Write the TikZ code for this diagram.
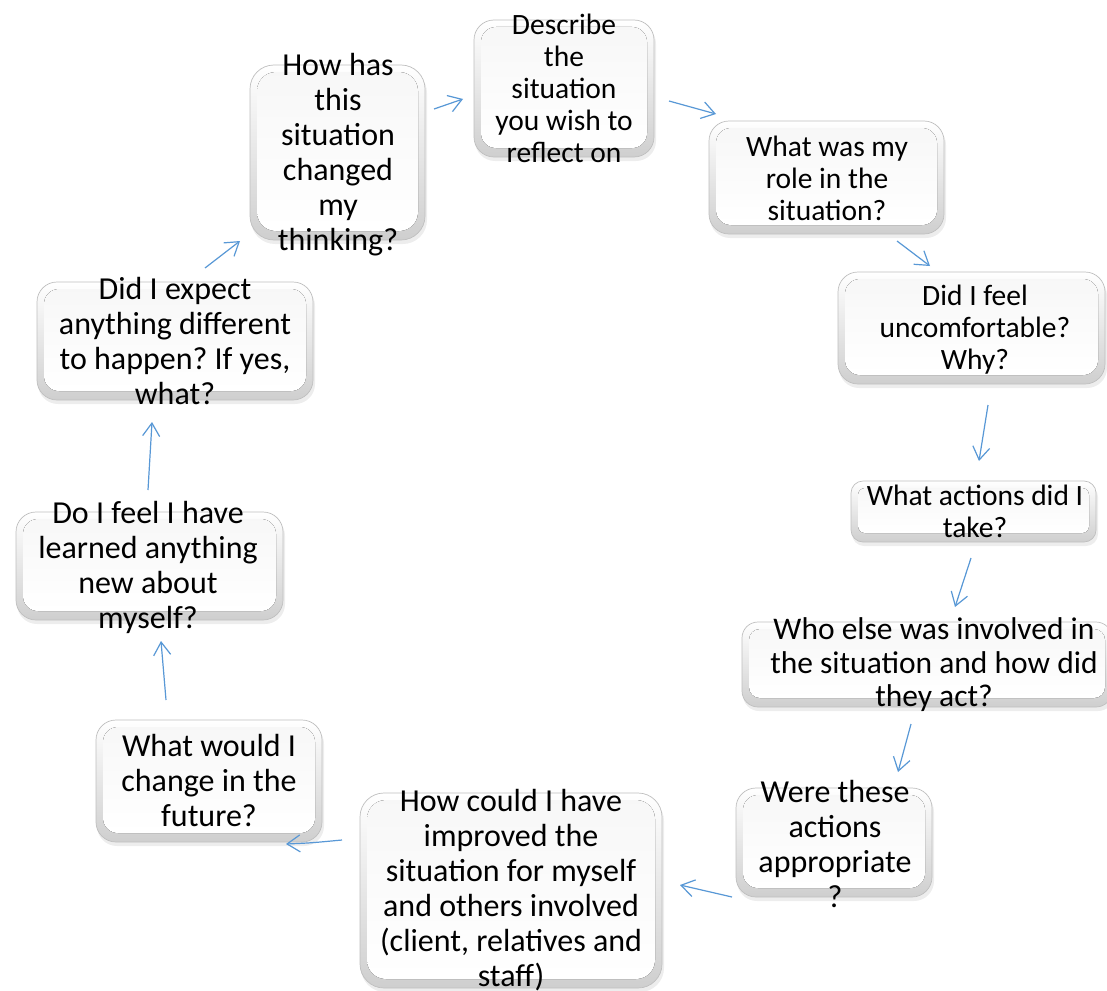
\documentclass[tikz,border=0pt]{standalone}
\usepackage{fontspec}
\setmainfont{Carlito}
\frenchspacing
\usetikzlibrary{arrows.meta}
\definecolor{arrowblue}{RGB}{88,152,214}
\tikzset{
  boxshadow/.style={fill=black, opacity=0.07},
  boxouter/.style={top color=white, bottom color=gray!38, draw=gray!50, line width=0.7pt},
  boxinner/.style={top color=gray!6, bottom color=white},
  qtext/.style={align=center, inner sep=0pt, text=black},
  big/.style={font=\fontsize{32}{35}\selectfont},
  mid/.style={font=\fontsize{31.5}{33.5}\selectfont},
  small/.style={font=\fontsize{29.5}{32}\selectfont},
  flow/.style={draw=arrowblue, line width=1.2pt, -{Straight Barb[length=13pt,width=17pt,line width=1.2pt]}},
}
% #1 name, #2 x1, #3 y1, #4 x2, #5 y2, #6 radius, #7 style, #8 text, #9 text centre
\newcommand\qbox[9]{%
  \fill[boxshadow, rounded corners=#6pt] (#2+1,#3+4) rectangle (#4+2,#5+4);
  \draw[boxouter, rounded corners=#6pt] (#2,#3) rectangle (#4,#5);
  \fill[boxinner, rounded corners=#6pt-5pt] (#2+7,#3+7) rectangle (#4-7,#5-9);
  \node[qtext,#7] (#1) at (#9) {#8};
}
\begin{document}
\begin{tikzpicture}[x=1pt,y=-1pt]
\useasboundingbox (0,0) rectangle (1107,990);
\fill[white] (0,0) rectangle (1107,990);

\qbox{b1}{474}{20}{654}{157}{20}{small}{Describe\\the\\situation\\you wish to\\reflect on}{564,88}
\qbox{b2}{709}{121}{944}{234}{20}{small}{What was my\\role in the\\situation?}{827,178}
\qbox{b3}{838}{272}{1105}{384}{20}{small}{Did I feel\\uncomfortable?\\Why?}{975,330}
\qbox{b4}{851}{481}{1096}{542}{12}{small}{What actions did I\\take?}{975,511}
\qbox{b5}{742}{622}{1112}{707}{16}{mid}{Who else was involved in\\the situation and how did\\they act?}{934,665}
\qbox{b6}{736}{788}{932}{897}{20}{big}{Were these\\actions\\appropriate\\?}{835,844}
\qbox{b7}{360}{793}{662}{988}{24}{big}{How could I have\\improved the\\situation for myself\\and others involved\\(client, relatives and\\staff)}{511,890}
\qbox{b8}{96}{720}{322}{842}{20}{big}{What would I\\change in the\\future?}{209,780}
\qbox{b9}{16}{512}{283}{620}{20}{big}{Do I feel I have\\learned anything\\new about\\myself?}{148,567}
\qbox{b10}{37}{282}{313}{400}{20}{big}{Did I expect\\anything different\\to happen? If yes,\\what?}{175,341}
\qbox{b11}{250}{65}{425}{240}{24}{big}{How has\\this\\situation\\changed\\my\\thinking?}{338,155}

% arrow end points
\coordinate (s1) at (434,109); \coordinate (e1) at (463,99);
\coordinate (s2) at (669,101); \coordinate (e2) at (716,114);
\coordinate (s3) at (897,241); \coordinate (e3) at (930,266);
\coordinate (s4) at (988,405); \coordinate (e4) at (979,461);
\coordinate (s5) at (971,558); \coordinate (e5) at (955,607);
\coordinate (s6) at (911,724); \coordinate (e6) at (898,772);
\coordinate (s7) at (732,897); \coordinate (e7) at (680,885);
\coordinate (s8) at (342,840); \coordinate (e8) at (286,844);
\coordinate (s9) at (166,700); \coordinate (e9) at (161,641);
\coordinate (s10) at (148,490); \coordinate (e10) at (152,422);
\coordinate (s11) at (205,268); \coordinate (e11) at (240,241);

\draw[flow] (s1) -- (e1);
\draw[flow] (s2) -- (e2);
\draw[flow] (s3) -- (e3);
\draw[flow] (s4) -- (e4);
\draw[flow] (s5) -- (e5);
\draw[flow] (s6) -- (e6);
\draw[flow] (s7) -- (e7);
\draw[flow] (s8) .. controls (310,843) .. (e8);
\draw[flow] (s9) -- (e9);
\draw[flow] (s10) -- (e10);
\draw[flow] (s11) -- (e11);
\end{tikzpicture}
\end{document}
